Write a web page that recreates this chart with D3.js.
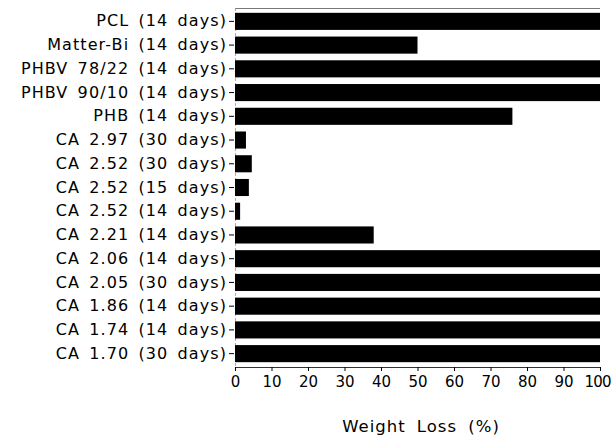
<!DOCTYPE html>
<html>
<head>
<meta charset="utf-8">
<script src="https://d3js.org/d3.v7.min.js"></script>
<style>
  body { margin: 0; background: #fff; }
  svg { display: block; }
  text { font-family: "DejaVu Sans", sans-serif; fill: #000; }
</style>
</head>
<body>
<svg id="chart" width="611" height="438"></svg>
<script>
// data
var samples = ["PCL (14 days)", "Matter-Bi (14 days)", "PHBV 78/22 (14 days)", "PHBV 90/10 (14 days)",
  "PHB (14 days)", "CA 2.97 (30 days)", "CA 2.52 (30 days)", "CA 2.52 (15 days)", "CA 2.52 (14 days)",
  "CA 2.21 (14 days)", "CA 2.06 (14 days)", "CA 2.05 (30 days)", "CA 1.86 (14 days)",
  "CA 1.74 (14 days)", "CA 1.70 (30 days)"];
var weightLoss = [100, 50, 100, 100, 76, 3, 4.6, 3.8, 1.4, 38, 100, 100, 100, 100, 100];
var xTicks = [0, 10, 20, 30, 40, 50, 60, 70, 80, 90, 100];

var svg = d3.select("#chart");
var x0 = 235, x1 = 600, yTop = 9.5, yBot = 365.5;

var x = d3.scaleLinear().domain([0, 100]).range([x0, x1]);
var y = d3.scaleBand().domain(samples).range([yTop, yBot]).paddingInner(0.28).paddingOuter(0.14);

// faint frame lines (top and left)
svg.append("line")
  .attr("x1", x0).attr("x2", x1).attr("y1", 8.5).attr("y2", 8.5)
  .attr("stroke", "#555").attr("stroke-width", 0.8);
svg.append("line")
  .attr("x1", x0 + 0.5).attr("x2", x0 + 0.5).attr("y1", 8).attr("y2", 368)
  .attr("stroke", "#999").attr("stroke-width", 0.8).attr("stroke-dasharray", "3,2");

// bars
svg.append("g").selectAll("rect")
  .data(samples)
  .enter()
  .append("rect")
  .attr("x", x(0))
  .attr("y", d => y(d))
  .attr("width", (d, i) => x(weightLoss[i]) - x(0))
  .attr("height", y.bandwidth())
  .attr("fill", "#000");

// y axis (labels + little dashes)
var yAxis = svg.append("g")
  .attr("transform", "translate(" + (x0 - 1) + ",0)")
  .call(d3.axisLeft(y).tickSize(5).tickPadding(2));
yAxis.select(".domain").remove();
yAxis.selectAll("text")
  .style("font-size", "16px")
  .attr("letter-spacing", "1.1px")
  .attr("word-spacing", "3px");

// x axis
var xAxis = svg.append("g")
  .attr("transform", "translate(0," + 367 + ")")
  .call(d3.axisBottom(x).tickValues(xTicks).tickSize(4).tickSizeOuter(0).tickPadding(5));
xAxis.select(".domain").attr("stroke", "#333");
xAxis.selectAll("text").style("font-size", "15px");
xAxis.selectAll(".tick").filter(d => d === 100).select("text")
  .attr("dx", "-3px").attr("letter-spacing", "-0.8px");

svg.append("text")
  .attr("x", 421)
  .attr("y", 432)
  .attr("text-anchor", "middle")
  .style("font-size", "16.5px")
  .attr("letter-spacing", "1px")
  .attr("word-spacing", "5px")
  .text("Weight Loss (%)");
</script>
</body>
</html>
